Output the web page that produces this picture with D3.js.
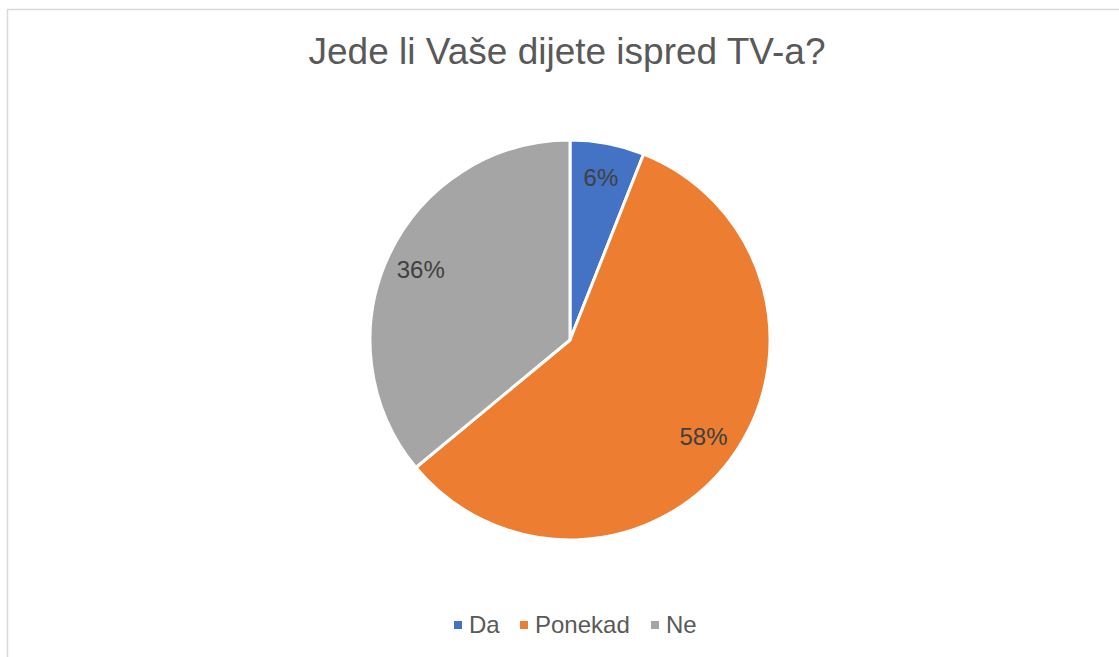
<!DOCTYPE html>
<html>
<head>
<meta charset="utf-8">
<script src="https://cdn.jsdelivr.net/npm/d3@7"></script>
<style>
  body { margin: 0; background: #fff; }
  svg { display: block; font-family: "Liberation Sans", Arial, sans-serif; }
</style>
</head>
<body>
<svg id="chart"></svg>
<script>
// podaci
let categories = ["Da", "Ponekad", "Ne"];
let values = [6, 58, 36];
let colors = ["#4472c4", "#ed7d31", "#a5a5a5"];

let width = 1119, height = 657;
let radius = 200;
let cx = 570, cy = 340;

let svg = d3.select("#chart")
    .attr("width", width)
    .attr("height", height);

// okvir
svg.append("rect")
    .attr("x", 7.5).attr("y", 9.5)
    .attr("width", 1200).attr("height", 700)
    .attr("fill", "none")
    .attr("stroke", "#d9d9d9")
    .attr("stroke-width", 1.5);

// naslov
svg.append("text")
    .attr("x", 567).attr("y", 64)
    .attr("text-anchor", "middle")
    .attr("font-size", 37)
    .attr("fill", "#595959")
    .text("Jede li Vaše dijete ispred TV-a?");

let data = categories.map((c, i) => ({ name: c, value: values[i] }));
let total = d3.sum(values);

let color = d3.scaleOrdinal().domain(categories).range(colors);

let pie = d3.pie().sort(null).value(d => d.value);
let arc = d3.arc().innerRadius(0).outerRadius(radius);
let labelArc = d3.arc().innerRadius(165).outerRadius(165);

let g = svg.append("g")
    .attr("transform", "translate(" + cx + "," + cy + ")");

let slices = g.selectAll("g.slice")
    .data(pie(data))
    .enter()
    .append("g")
    .attr("class", "slice");

slices.append("path")
    .attr("d", arc)
    .attr("fill", d => color(d.data.name))
    .attr("stroke", "#fff")
    .attr("stroke-width", 3)
    .attr("stroke-linejoin", "round");

slices.append("text")
    .attr("transform", d => "translate(" + labelArc.centroid(d) + ")")
    .attr("text-anchor", "middle")
    .attr("dy", "0.35em")
    .attr("font-size", 24)
    .attr("fill", "#404040")
    .text(d => Math.round(d.data.value / total * 100) + "%");

// legenda
let legendX = [454, 520, 651];
let legend = svg.append("g");
let items = legend.selectAll("g")
    .data(categories)
    .enter()
    .append("g")
    .attr("transform", (d, i) => "translate(" + legendX[i] + ",621)");

items.append("rect")
    .attr("width", 8).attr("height", 8)
    .attr("fill", d => color(d));

items.append("text")
    .attr("x", 15).attr("y", 12)
    .attr("font-size", 24)
    .attr("fill", "#595959")
    .text(d => d);
</script>
</body>
</html>
